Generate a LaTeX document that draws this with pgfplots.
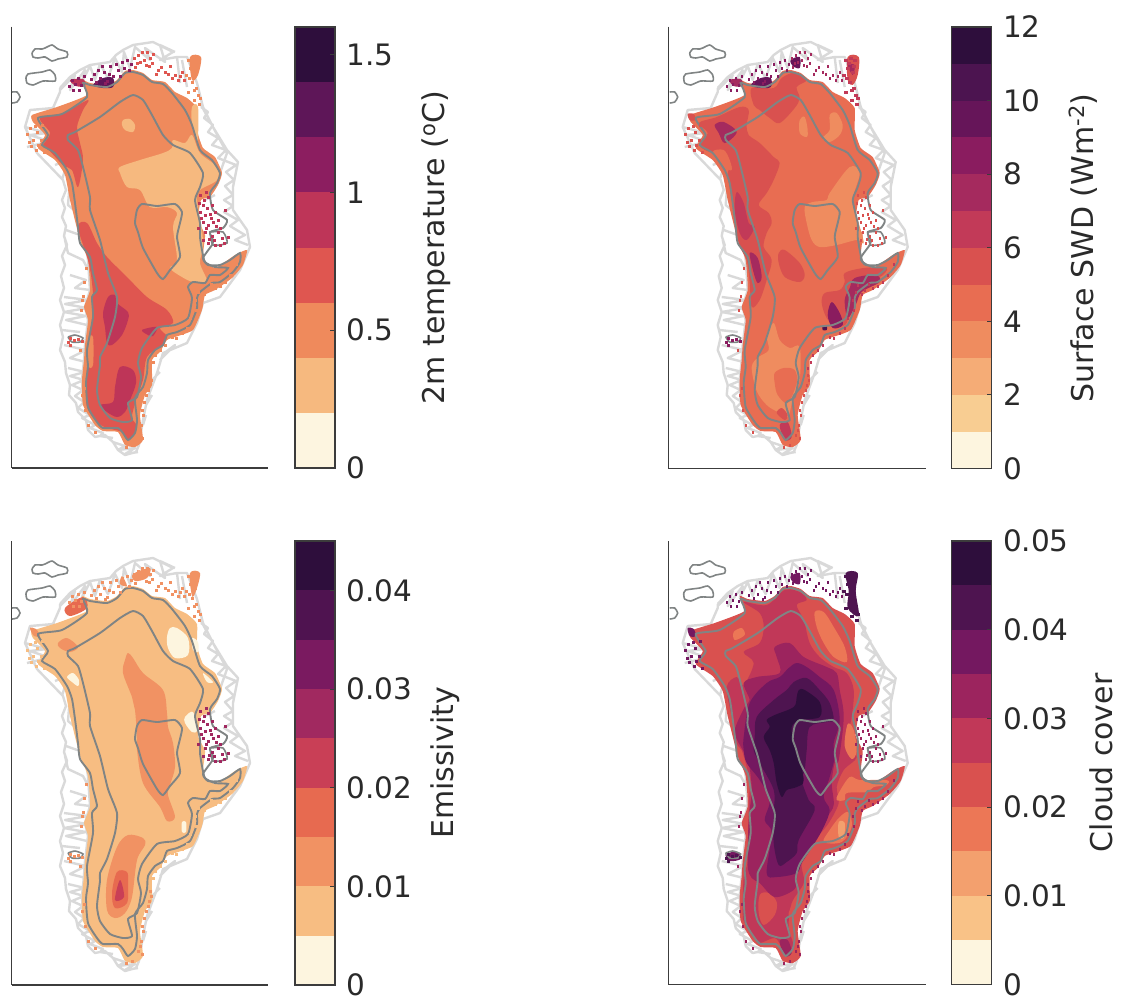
\documentclass[border=0pt]{standalone}
\usepackage{fontspec}
\setmainfont{DejaVu Sans}
\usepackage{pgfplots}
\usepackage{pgfplotstable}
\pgfplotsset{compat=1.18}
\definecolor{txt}{HTML}{2A2A2A}
\definecolor{axc}{HTML}{3C3C3C}
\definecolor{coast}{HTML}{D9D9D9}
\definecolor{cont}{HTML}{808484}
% level colours per panel
\definecolor{a0}{HTML}{FDF5E0}\definecolor{a1}{HTML}{F6B97F}\definecolor{a2}{HTML}{EF8A5C}\definecolor{a3}{HTML}{DF5650}
\definecolor{a4}{HTML}{BE3558}\definecolor{a5}{HTML}{8C1E60}\definecolor{a6}{HTML}{5E1658}\definecolor{a7}{HTML}{2E0E3C}
\definecolor{b0}{HTML}{FDF5DF}\definecolor{b1}{HTML}{F8CD92}\definecolor{b2}{HTML}{F5AC76}\definecolor{b3}{HTML}{EF8C5F}
\definecolor{b4}{HTML}{E86D52}\definecolor{b5}{HTML}{D9514F}\definecolor{b6}{HTML}{C23A58}\definecolor{b7}{HTML}{A52A5E}
\definecolor{b8}{HTML}{8A1C5F}\definecolor{b9}{HTML}{661559}\definecolor{b10}{HTML}{4C1450}\definecolor{b11}{HTML}{2E0E3C}
\definecolor{c0}{HTML}{FDF5DF}\definecolor{c1}{HTML}{F7BD82}\definecolor{c2}{HTML}{F19263}\definecolor{c3}{HTML}{E76A50}
\definecolor{c4}{HTML}{C93F56}\definecolor{c5}{HTML}{A12960}\definecolor{c6}{HTML}{7A1A60}\definecolor{c7}{HTML}{4F1350}\definecolor{c8}{HTML}{2E0E3C}
\definecolor{d0}{HTML}{FDF5DF}\definecolor{d1}{HTML}{F9C287}\definecolor{d2}{HTML}{F3A06E}\definecolor{d3}{HTML}{EC7756}
\definecolor{d4}{HTML}{D9514F}\definecolor{d5}{HTML}{C13858}\definecolor{d6}{HTML}{9C245E}\definecolor{d7}{HTML}{741860}
\definecolor{d8}{HTML}{4E1450}\definecolor{d9}{HTML}{2E0E3C}

% ---------- geometry shared by the four maps (pixels of the top left panel)
\pgfplotstableread{
x y
60 88
70 77
80 70
90 65
110 62
116 55
123 50
133 45
153 42
173 52
160 60
177 57
187 57
192 70
197 83
203 107
213 127
227 150
238 162
233 187
233 210
247 230
250 247
240 270
220 297
203 303
197 323
187 343
163 353
157 373
147 400
143 420
139 445
136 452
125 455
118 450
113 442
105 435
95 437
88 430
86 420
78 412
76 403
69 395
70 385
66 373
65 362
60 350
63 337
60 325
64 312
60 300
64 288
61 276
65 265
62 256
67 245
64 236
66 226
62 217
65 208
62 200
66 190
63 180
37 153
25 127
30 110
53 108
60 92
60 88
nan nan
85 240
88 260
90 290
85 307
88 320
85 345
84 360
82 380
83 405
nan nan
65 240
68 253
83 260
90 273
nan nan
64 297
88 300
65 304
87 308
64 312
86 316
66 320
87 325
nan nan
62 330
80 332
nan nan
64 345
86 350
70 358
86 362
nan nan
68 368
85 372
70 376
84 380
72 385
83 390
75 396
84 402
78 408
90 415
82 418
95 425
90 428
103 433
100 436
113 438
nan nan
113 442
125 446
118 450
135 448
125 454
138 452
nan nan
70 180
68 205
80 215
nan nan
66 230
80 235
nan nan
70 275
86 280
75 288
90 290
nan nan
201 107
208 112
204 118
213 125
208 132
218 138
212 145
226 150
218 158
236 165
226 172
234 180
225 186
233 195
224 200
233 206
224 212
238 220
230 226
245 235
235 240
248 245
nan nan
205 200
215 195
nan nan
200 103
213 127
227 153
220 173
nan nan
60 90
75 75
70 90
85 70
82 82
90 66
95 80
100 64
108 78
115 58
122 72
124 52
130 68
135 47
150 60
145 48
165 62
160 45
175 52
nan nan
177 57
180 83
nan nan
182 60
187 87
nan nan
30 110
55 108
nan nan
25 127
47 133
30 135
45 140
nan nan
27 147
43 143
nan nan
62 180
68 160
55 165
nan nan
163 354
175 345
160 360
nan nan
152 380
160 372
nan nan
146 405
152 395
nan nan
143 425
146 415
nan nan
}\tCoast

\pgfplotstableread{
x y
32 115
57 107
87 95
82 80
90 83
107 85
117 80
125 71
133 70
143 73
152 80
165 82
175 92
187 98
197 108
197 130
203 148
215 157
222 173
218 185
210 197
201 200
198 220
205 235
203 258
215 268
235 255
247 250
243 265
232 278
215 290
205 295
202 310
193 330
178 336
167 340
160 352
152 360
152 385
145 395
140 415
143 440
135 447
125 445
118 432
103 431
95 425
83 405
82 380
84 360
85 345
88 320
84 307
90 290
88 260
80 240
70 200
65 175
55 160
38 148
45 135
33 122
}\tBase

\pgfplotstableread{
x y
38 118
62 114
87 97
83 83
90 85
107 87
117 82
125 73
133 72
143 75
152 82
163 84
172 93
185 110
192 125
200 150
212 160
220 173
217 183
210 193
213 210
227 220
223 228
210 232
213 240
212 245
203 258
208 265
220 265
230 260
240 253
240 262
233 272
220 282
212 283
200 292
197 298
197 308
190 325
177 332
167 335
163 345
155 350
148 360
147 373
143 387
135 398
137 420
135 433
128 440
123 433
118 428
103 428
97 422
88 407
86 383
88 367
87 350
93 317
92 297
97 290
93 273
90 257
80 243
78 227
75 203
72 183
67 170
55 153
42 145
48 135
}\tOuter

\pgfplotstableread{
x y
68 135
75 132
100 117
120 102
133 95
143 100
152 115
163 135
173 145
190 153
203 173
200 187
195 200
200 223
200 237
202 250
205 262
215 267
228 268
220 275
210 275
205 283
193 282
188 287
192 298
188 318
175 325
157 328
142 348
138 363
141 377
137 397
128 403
132 420
123 422
110 418
100 405
97 390
100 365
100 357
107 343
115 317
117 297
108 273
100 240
90 210
90 197
83 167
78 150
68 140
}\tInner

\pgfplotstableread{
x y
137 210
142 204
157 206
175 204
182 212
180 223
177 237
180 257
170 270
163 279
157 273
143 248
138 232
135 223
}\tRing

\pgfplotstableread{
x y
32 53
35 49
42 49
45 48
52 45
58 49
67 52
67 57
58 59
52 61
45 57
38 58
33 57
32 53
nan nan
26 78
28 74
42 72
50 70
55 75
55 81
43 81
33 85
27 83
26 78
nan nan
12 92
17 92
20 97
17 102
12 103
nan nan
68 337
75 335
83 338
80 342
72 342
68 337
nan nan
210 232
223 232
227 243
213 245
210 232
nan nan
}\tIslands

% speckles on the coast
\pgfplotstableread{
x y
72 80
75 84
78 78
81 85
84 76
94 74
98 70
100 78
104 72
107 81
110 66
113 76
118 70
122 62
127 60
131 64
69 86
73 90
79 90
91 79
96 82
102 66
105 83
109 74
116 64
120 76
124 68
129 70
}\tSN
\pgfplotstableread{
x y
134 58
138 55
140 62
144 60
147 52
150 58
153 54
135 67
149 66
158 70
165 72
170 66
175 75
178 80
182 72
137 63
142 52
146 65
152 63
156 74
161 67
168 74
172 78
180 76
184 80
}\tSNN
\pgfplotstableread{
x y
188 60
193 58
197 60
190 68
195 72
186 75
192 82
196 88
188 92
198 95
194 100
199 104
191 63
196 66
189 78
194 90
200 98
}\tSNE
\pgfplotstableread{
x y
200 195
204 200
208 197
203 205
207 208
212 205
200 212
205 215
210 214
215 212
203 222
208 225
213 222
218 220
205 232
212 236
218 232
222 238
208 243
215 245
220 245
225 210
199 203
206 192
201 218
211 218
216 226
206 228
220 228
209 239
224 243
203 240
214 240
228 237
198 228
}\tSE
\pgfplotstableread{
x y
200 285
207 290
215 288
225 282
195 300
190 318
182 333
172 337
165 345
155 355
150 368
198 292
211 284
220 286
230 275
236 264
196 310
187 328
176 338
160 350
153 362
204 294
}\tSSE
\pgfplotstableread{
x y
30 128
27 134
33 140
37 132
42 125
31 146
36 150
44 152
41 140
29 142
38 145
35 126
}\tSW
\pgfplotstableread{
x y
150 375
149 385
146 395
142 410
141 425
138 435
132 445
85 410
82 395
88 425
95 432
80 350
82 300
84 282
151 380
148 390
144 402
143 415
140 430
142 438
126 447
84 388
81 310
83 296
86 268
}\tSS
\pgfplotstableread{
x y
70 338
74 340
78 339
68 342
82 341
70 345
}\tSL

\pgfplotsset{
 mapax/.style={x=1pt,y=1pt,y dir=reverse,xtick=\empty,ytick=\empty,
   axis x line*=bottom,axis y line*=left,
   axis line style={draw=axc,line width=1.5pt,-},unbounded coords=jump},
 cbar/.style={scale only axis,width=40pt,xmin=0,xmax=1,xtick=\empty,axis on top,scaled y ticks=false,
   ytick pos=right,yticklabel pos=right,tick align=inside,
   major tick length=5pt,tick style={draw=axc,line width=1pt},
   axis line style={draw=axc,line width=1.2pt},
   yticklabel style={font=\fontsize{29.5}{29.5}\selectfont,text=txt,xshift=8pt},
   /pgf/number format/assume math mode=true},
 lab/.style={every axis y label/.style={at={(axis description cs:#1,0.5)},rotate=90,anchor=center,font=\fontsize{30}{30}\selectfont,text=txt}},
}
\newcommand{\sw}[3]{\addplot[fill=#1,draw=none] coordinates {(0,#2)(1,#2)(1,#3)(0,#3)} --cycle;}
\newcommand{\blob}[2]{\addplot[fill=#1,draw=none,smooth cycle,tension=0.55] coordinates {#2};}
\newcommand{\mapstart}[1]{%
 \addplot[draw=coast,line width=2.4pt,no markers,line join=round] table {\tCoast};
 \addplot[fill=#1,draw=none,smooth cycle,tension=0.3] table {\tBase};
}
\newcommand{\specks}[8]{%
 \addplot[only marks,mark=square*,mark size=.8pt,color=#1] table {\tSN};
 \addplot[only marks,mark=square*,mark size=.8pt,color=#2] table {\tSNN};
 \addplot[only marks,mark=square*,mark size=1.2pt,color=#3] table {\tSNE};
 \addplot[only marks,mark=square*,mark size=.8pt,color=#4] table {\tSE};
 \addplot[only marks,mark=square*,mark size=.8pt,color=#5] table {\tSSE};
 \addplot[only marks,mark=square*,mark size=1pt,color=#6] table {\tSW};
 \addplot[only marks,mark=square*,mark size=.8pt,color=#7] table {\tSS};
 \addplot[only marks,mark=square*,mark size=1pt,color=#8] table {\tSL};
}
\newcommand{\mapend}{%
 \addplot[draw=cont,line width=1.9pt,smooth cycle,tension=0.35] table {\tOuter};
 \addplot[draw=cont,line width=1.9pt,smooth cycle,tension=0.35] table {\tInner};
 \addplot[draw=cont,line width=1.9pt,smooth cycle,tension=0.35] table {\tRing};
 \addplot[draw=cont,line width=1.6pt,no markers,smooth,tension=.4] table {\tIslands};
}

\begin{document}
\begin{tikzpicture}[x=1pt,y=1pt]
\path[use as bounding box] (0,0) rectangle (1121,-997);

% ================= panel a
\begin{axis}[mapax,at={(11.7pt,-468pt)},anchor=south west,xmin=11.7,xmax=268,ymin=26.7,ymax=468]
\mapstart{a2}
\blob{a1}{(120,167)(140,160)(163,153)(172,148)(173,140)(185,143)(192,135)(200,153)(217,167)(217,180)(200,190)(197,200)(202,230)(203,248)(200,263)(207,282)(193,282)(182,277)(170,268)(177,260)(173,227)(177,213)(167,207)(150,207)(140,190)(127,187)(120,173)}
\blob{a1}{(123,120)(130,119)(135,125)(133,132)(125,130)(122,125)}
\blob{a1}{(192,107)(198,107)(198,140)(197,143)(192,125)}
\blob{a3}{(40,118)(63,113)(88,100)(83,110)(77,127)(80,143)(83,160)(78,187)(72,170)(63,165)(47,148)(43,145)(50,133)}
\blob{a3}{(78,227)(87,223)(97,243)(107,257)(127,277)(147,297)(167,310)(173,323)(160,328)(167,337)(160,347)(147,357)(143,380)(137,397)(132,417)(137,427)(128,440)(122,432)(107,428)(97,422)(87,407)(86,383)(88,357)(93,307)(92,283)(88,260)}
\blob{a2}{(88,340)(93,337)(93,365)(88,365)}
\blob{a4}{(108,297)(115,295)(117,303)(128,312)(128,320)(122,335)(112,345)(107,343)(105,327)(103,313)}
\blob{a4}{(120,367)(133,370)(136,383)(130,400)(125,412)(117,417)(107,412)(100,405)(113,402)(115,387)}
\blob{a4}{(142,330)(157,327)(153,336)(148,335)}
\blob{a2}{(190,57)(201,57)(198,75)(192,80)}
\blob{a6}{(93,85)(103,78)(113,78)(113,87)(103,88)}
\blob{a4}{(70,80)(83,79)(85,86)(76,86)}
\specks{a5}{a3}{a2}{a4}{a2}{a2}{a2}{a3}
\mapend
\end{axis}
\begin{axis}[cbar,lab=3.52,height=441pt,at={(295pt,-468pt)},anchor=south west,ymin=0,ymax=1.6,
  ytick={0,0.5,1,1.5},yticklabels={0,0.5,1,1.5},ylabel={2m temperature (\textsuperscript{o}C)}]
\sw{a0}{0}{.2}\sw{a1}{.2}{.4}\sw{a2}{.4}{.6}\sw{a3}{.6}{.8}\sw{a4}{.8}{1}\sw{a5}{1}{1.2}\sw{a6}{1.2}{1.4}\sw{a7}{1.4}{1.6}
\end{axis}

% ================= panel b
\begin{axis}[mapax,at={(668.3pt,-468.5pt)},anchor=south west,xmin=10.6,xmax=268,ymin=26.7,ymax=468.5]
\mapstart{b4}
\blob{b3}{(172,193)(192,167)(202,173)(195,200)(201,223)(206,243)(199,240)(179,245)(162,247)(154,240)(149,223)(147,207)(155,202)(169,200)}
\blob{b3}{(142,120)(147,117)(150,130)(149,137)(142,133)}
\blob{b3}{(172,115)(179,113)(185,125)(182,135)(172,142)(165,138)(172,130)}
\blob{b3}{(116,323)(122,340)(132,348)(142,347)(142,380)(135,400)(130,417)(120,412)(109,405)(99,391)(94,367)(101,357)(111,350)(109,335)}
\blob{b4}{(117,373)(126,368)(137,370)(139,383)(130,403)(120,395)(117,383)}
\blob{b5}{(94,88)(116,88)(124,78)(136,73)(149,80)(139,87)(142,98)(137,108)(122,123)(112,118)(102,110)(96,105)}
\blob{b5}{(41,123)(59,117)(82,107)(91,110)(89,125)(91,135)(102,143)(116,157)(122,163)(116,180)(109,193)(101,205)(111,213)(114,223)(109,233)(106,247)(114,260)(109,280)(102,300)(94,307)(92,283)(89,260)(81,243)(74,200)(70,173)(74,167)(66,153)(52,152)(42,145)(50,133)}
\blob{b4}{(55,152)(66,150)(72,160)(74,170)(67,167)}
\blob{b5}{(121,253)(127,250)(142,263)(147,275)(142,282)(127,277)(121,263)}
\blob{b5}{(187,273)(206,268)(229,268)(222,277)(206,277)(199,295)(192,307)(189,323)(179,327)(169,318)(164,303)(167,293)(182,290)(187,282)}
\blob{b8}{(174,302)(182,313)(185,325)(175,328)(170,315)}
\blob{b7}{(197,278)(218,275)(222,282)(204,292)(198,305)(190,318)(187,300)(192,288)}
\blob{b10}{(165,326)(169,326)(169,330)(165,330)}
\blob{b7}{(57,125)(66,122)(79,132)(67,143)(61,133)}
\blob{b6}{(79,192)(86,203)(91,223)(97,227)(89,240)(82,233)(77,210)}
\blob{b7}{(92,253)(100,258)(104,277)(100,283)(96,273)}
\blob{b5}{(119,413)(124,408)(130,415)(127,420)}
\blob{b6}{(122,425)(130,422)(134,437)(127,440)}
\blob{b5}{(190,57)(201,57)(200,75)(195,85)(190,80)}
\blob{b7}{(190,65)(197,65)(195,75)}
\blob{b9}{(93,85)(103,78)(113,78)(113,87)(103,88)}
\blob{b9}{(133,60)(142,57)(142,68)(135,66)}
\blob{b7}{(72,80)(83,79)(85,86)(76,86)}
\blob{b5}{(30,114)(36,114)(38,120)(32,120)}
\specks{b8}{b7}{b6}{b5}{b6}{b5}{b5}{b8}
\mapend
\end{axis}
\begin{axis}[cbar,lab=3.3,height=441.5pt,at={(951.5pt,-468.5pt)},anchor=south west,ymin=0,ymax=12,
  ytick={0,2,...,12},yticklabels={0,2,4,6,8,10,12},ylabel={Surface SWD (Wm\textsuperscript{-2})}]
\sw{b0}{0}{1}\sw{b1}{1}{2}\sw{b2}{2}{3}\sw{b3}{3}{4}\sw{b4}{4}{5}\sw{b5}{5}{6}\sw{b6}{6}{7}\sw{b7}{7}{8}\sw{b8}{8}{9}\sw{b9}{9}{10}\sw{b10}{10}{11}\sw{b11}{11}{12}
\end{axis}

% ================= panel c
\begin{axis}[mapax,at={(11.7pt,-985pt)},anchor=south west,xmin=11.7,xmax=268,ymin=25,ymax=469]
\mapstart{c1}
\blob{c2}{(128,137)(133,142)(143,157)(163,174)(167,197)(168,211)(173,227)(175,251)(170,269)(168,279)(175,301)(167,305)(160,291)(143,267)(137,234)(137,221)(135,194)(132,181)(123,157)(125,144)}
\blob{c2}{(128,319)(143,322)(145,329)(137,344)(132,381)(125,397)(115,402)(107,394)(107,364)(117,331)}
\blob{c3}{(117,356)(127,356)(128,367)(127,387)(115,392)(112,377)}
\blob{c4}{(120,364)(124,381)(115,384)}
\blob{c2}{(58,127)(67,122)(78,131)(70,136)(60,132)}
\blob{c0}{(170,112)(177,112)(188,122)(188,139)(175,142)(168,132)(167,121)}
\blob{c0}{(67,161)(73,157)(79,164)(78,170)(72,166)}
\blob{c0}{(185,201)(193,196)(197,214)(192,216)(185,207)}
\blob{c0}{(192,122)(198,126)(198,136)(193,134)}
\blob{c0}{(203,157)(213,166)(207,166)}
\blob{c0}{(182,306)(186,306)(186,316)(182,316)}
\blob{c2}{(190,57)(200,57)(196,75)(192,80)}
\blob{c3}{(65,92)(83,81)(87,92)(70,100)}
\blob{c2}{(122,60)(127,70)(120,68)}
\blob{c2}{(133,58)(150,52)(147,62)(135,65)}
\blob{c2}{(30,112)(36,113)(40,120)(34,120)}
\specks{c2}{c2}{c2}{c5}{c1}{c1}{c2}{c2}
\mapend
\end{axis}
\begin{axis}[cbar,lab=3.75,height=444pt,at={(295pt,-985pt)},anchor=south west,ymin=0,ymax=0.045,
  ytick={0,0.01,0.02,0.03,0.04},yticklabels={0,0.01,0.02,0.03,0.04},ylabel={Emissivity}]
\sw{c0}{0}{.005}\sw{c1}{.005}{.01}\sw{c2}{.01}{.015}\sw{c3}{.015}{.02}\sw{c4}{.02}{.025}\sw{c5}{.025}{.03}\sw{c6}{.03}{.035}\sw{c7}{.035}{.04}\sw{c8}{.04}{.045}
\end{axis}

% ================= panel d
\begin{axis}[mapax,at={(668.3pt,-984.5pt)},anchor=south west,xmin=10.6,xmax=268,ymin=25,ymax=468.5]
\mapstart{d4}
\blob{d5}{(86,86)(109,89)(127,74)(142,76)(149,84)(139,89)(146,104)(152,127)(162,141)(176,151)(189,157)(196,174)(194,201)(189,227)(199,241)(186,254)(179,271)(181,287)(171,307)(157,324)(146,337)(144,351)(146,367)(134,387)(131,411)(136,431)(129,437)(124,431)(117,422)(102,427)(97,421)(87,407)(85,397)(86,361)(90,344)(91,291)(92,267)(89,251)(84,234)(79,227)(74,201)(69,171)(79,161)(86,169)(96,147)(86,136)(102,127)(106,111)(102,97)}
\blob{d4}{(102,379)(111,377)(119,386)(117,399)(106,409)(101,397)}
\blob{d4}{(131,397)(139,381)(149,374)(142,391)(134,404)}
\blob{d6}{(117,131)(132,127)(146,141)(169,151)(179,157)(182,174)(186,201)(181,244)(177,247)(174,267)(176,289)(169,301)(159,314)(146,331)(141,347)(139,364)(136,374)(117,381)(102,367)(94,362)(90,349)(91,304)(94,274)(91,247)(85,234)(81,227)(77,214)(87,191)(92,184)(86,167)(99,161)(122,157)(119,141)}
\blob{d7}{(131,152)(139,147)(149,151)(162,161)(176,174)(182,204)(176,227)(177,241)(172,261)(166,281)(172,294)(166,311)(157,327)(144,347)(139,357)(119,361)(109,357)(114,317)(107,304)(112,284)(102,264)(89,247)(86,234)(86,221)(92,187)(109,167)(122,161)}
\blob{d8}{(136,166)(149,162)(162,174)(172,187)(176,204)(169,206)(152,211)(149,234)(147,254)(144,264)(151,284)(157,294)(141,324)(139,337)(129,346)(121,349)(116,327)(116,297)(116,274)(102,247)(96,234)(97,221)(99,201)(116,184)(129,174)}
\blob{d9}{(141,174)(147,174)(162,186)(162,201)(142,204)(134,211)(136,227)(139,234)(146,264)(139,271)(129,274)(124,281)(119,267)(116,247)(112,234)(106,221)(112,211)(109,204)(117,199)(136,191)(139,181)}
\blob{d3}{(76,116)(84,112)(87,119)(77,124)}
\blob{d3}{(157,96)(166,96)(176,111)(187,131)(189,146)(176,141)(166,127)(159,111)}
\blob{d3}{(190,208)(196,214)(199,235)(194,243)(187,230)}
\blob{d3}{(189,277)(209,276)(216,271)(229,269)(229,264)(202,264)(192,261)(181,277)(179,284)(187,284)}
\blob{d3}{(172,314)(182,301)(191,296)(194,311)(184,326)(166,326)}
\blob{d2}{(181,306)(187,307)(186,322)(181,321)}
\blob{d6}{(122,425)(130,424)(134,437)(127,440)}
\blob{d8}{(188,57)(200,57)(198,75)(201,100)(190,92)(191,75)}
\blob{d7}{(133,60)(142,57)(142,68)(135,66)}
\blob{d7}{(30,112)(36,113)(38,120)(32,120)}
\blob{d7}{(68,338)(80,336)(83,343)(72,345)}
\specks{d7}{d7}{d8}{d6}{d6}{d7}{d6}{d8}
\mapend
\end{axis}
\begin{axis}[cbar,lab=3.75,height=443.5pt,at={(951.5pt,-984.5pt)},anchor=south west,ymin=0,ymax=0.05,
  ytick={0,0.01,0.02,0.03,0.04,0.05},yticklabels={0,0.01,0.02,0.03,0.04,0.05},ylabel={Cloud cover}]
\sw{d0}{0}{.005}\sw{d1}{.005}{.01}\sw{d2}{.01}{.015}\sw{d3}{.015}{.02}\sw{d4}{.02}{.025}\sw{d5}{.025}{.03}\sw{d6}{.03}{.035}\sw{d7}{.035}{.04}\sw{d8}{.04}{.045}\sw{d9}{.045}{.05}
\end{axis}
\end{tikzpicture}
\end{document}
